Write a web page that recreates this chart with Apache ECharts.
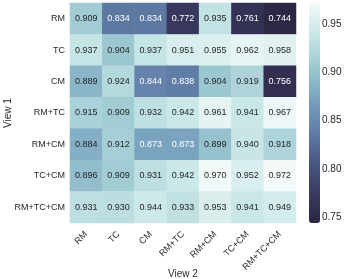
<!DOCTYPE html>
<html><head><meta charset="utf-8">
<script src="https://cdn.jsdelivr.net/npm/echarts@6/dist/echarts.min.js"></script>
<style>html,body{margin:0;padding:0;background:#fff}#c{width:349px;height:279px}</style>
</head><body><div id="c"></div>
<script>
const xCats = ['RM','TC','CM','RM+TC','RM+CM','TC+CM','RM+TC+CM'];
const yCats = ['RM','TC','CM','RM+TC','RM+CM','TC+CM','RM+TC+CM'];
const rowRM      = [0.909,0.834,0.834,0.772,0.935,0.761,0.744];
const rowTC      = [0.937,0.904,0.937,0.951,0.955,0.962,0.958];
const rowCM      = [0.889,0.924,0.844,0.838,0.904,0.919,0.756];
const rowRMTC    = [0.915,0.909,0.932,0.942,0.961,0.941,0.967];
const rowRMCM    = [0.884,0.912,0.873,0.873,0.899,0.940,0.918];
const rowTCCM    = [0.896,0.909,0.931,0.942,0.970,0.952,0.972];
const rowRMTCCM  = [0.931,0.930,0.944,0.933,0.953,0.941,0.949];
const rows = [rowRM,rowTC,rowCM,rowRMTC,rowRMCM,rowTCCM,rowRMTCCM];
const cbTicks = [0.75,0.80,0.85,0.90,0.95];
const vMin = 0.744, vMax = 0.972;

const data = [];
rows.forEach((r, yi) => r.forEach((v, xi) => {
  data.push({value:[xi, yi, v], label:{color: v < 0.88 ? '#ffffff' : '#262626'}});
}));

const font = 'Liberation Sans, Arial, sans-serif';
const chart = echarts.init(document.getElementById('c'), null, {renderer:'canvas'});
chart.setOption({
  animation:false,
  grid:[
    {left:70, top:3, width:226, height:220, outerBoundsMode:'none', containLabel:false},
    {left:309, top:3, width:11, height:220, outerBoundsMode:'none', containLabel:false}
  ],
  xAxis:[
    {type:'category', data:xCats, gridIndex:0,
     axisLine:{show:false}, axisTick:{show:false}, splitLine:{show:false},
     axisLabel:{rotate:45, margin:10, fontSize:9, color:'#262626', fontFamily:font, interval:0},
     name:'View 2', nameLocation:'middle', nameGap:46, nameMoveOverlap:false,
     nameTextStyle:{fontSize:10, color:'#262626', fontFamily:font}},
    {type:'value', gridIndex:1, show:false, min:0, max:1}
  ],
  yAxis:[
    {type:'category', data:yCats, inverse:true, gridIndex:0,
     axisLine:{show:false}, axisTick:{show:false}, splitLine:{show:false},
     axisLabel:{margin:5, fontSize:9, color:'#262626', fontFamily:font, interval:0},
     name:'View 1', nameLocation:'middle', nameGap:57, nameMoveOverlap:false,
     nameTextStyle:{fontSize:10, color:'#262626', fontFamily:font}},
    {type:'value', gridIndex:1, position:'right', min:vMin, max:vMax,
     axisLine:{show:false}, splitLine:{show:false},
     axisTick:{show:true, length:3, lineStyle:{color:'#262626', width:0.8}, customValues:cbTicks},
     axisLabel:{show:true, fontSize:10, margin:2, color:'#262626', fontFamily:font,
       customValues:cbTicks, formatter:v=>v.toFixed(2)}}
  ],
  visualMap:{
    type:'continuous', min:vMin, max:vMax, seriesIndex:0,
    left:309, top:3, itemWidth:11, itemHeight:220, padding:0,
    text:['',''], calculable:false, hoverLink:false,
    inRange:{color:['#2b2745','#3a3b62','#4a5a86','#6381aa','#7ba4c0','#9ecad3','#c8e6e6','#f4fafa']}
  },
  series:[{
    type:'heatmap', xAxisIndex:0, yAxisIndex:0, data:data,
    label:{show:true, fontSize:9, fontFamily:font, formatter:p=>p.value[2].toFixed(3)},
    itemStyle:{borderWidth:0},
    emphasis:{disabled:true}
  }]
});
</script></body></html>
